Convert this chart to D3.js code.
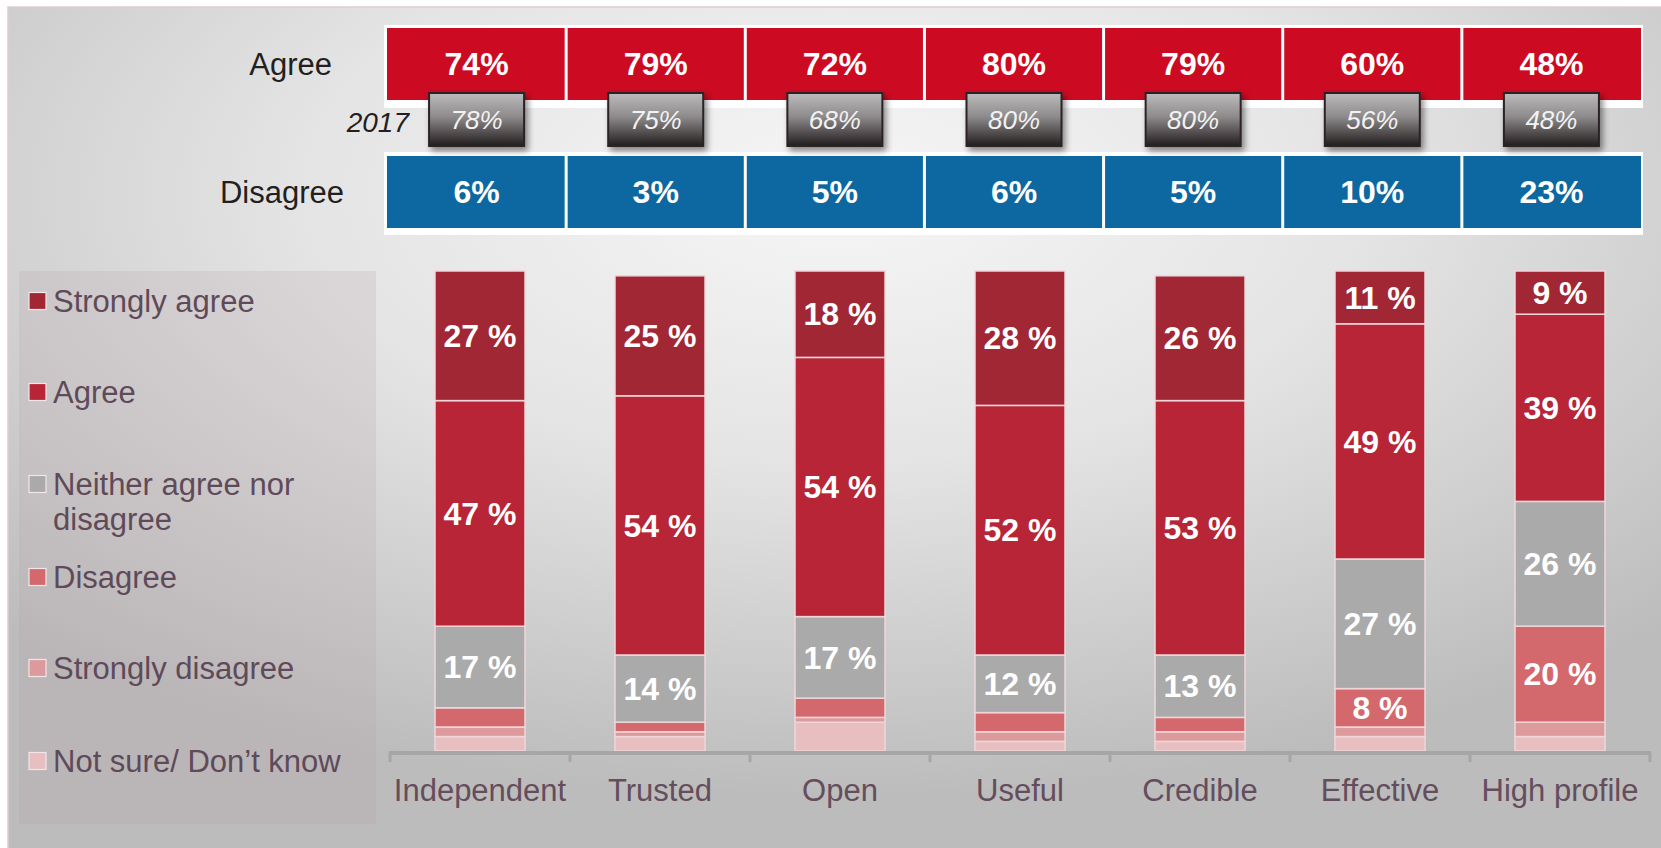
<!DOCTYPE html>
<html>
<head>
<meta charset="utf-8">
<script src="https://cdn.jsdelivr.net/npm/d3@7/dist/d3.min.js"></script>
<style>
  html, body { margin: 0; padding: 0; background: #ffffff; }
  svg { display: block; font-family: "Liberation Sans", Arial, sans-serif; }
</style>
</head>
<body>
<svg id="chart" width="1661" height="848"></svg>
<script>
// Survey attributes and their summary shares
const categories = ["Independent", "Trusted", "Open", "Useful", "Credible", "Effective", "High profile"];
const agreeTotal = [74, 79, 72, 80, 79, 60, 48];
const agree2017 = [78, 75, 68, 80, 80, 56, 48];
const disagreeTotal = [6, 3, 5, 6, 5, 10, 23];

// Full response breakdown (percent)
const responses = ["Strongly agree", "Agree", "Neither agree nor disagree", "Disagree", "Strongly disagree", "Not sure/ Don\u2019t know"];
const stronglyAgree = [27, 25, 18, 28, 26, 11, 9];
const agree = [47, 54, 54, 52, 53, 49, 39];
const neither = [17, 14, 17, 12, 13, 27, 26];
const disagree = [4, 2, 4, 4, 3, 8, 20];
const stronglyDisagree = [2, 1, 1, 2, 2, 2, 3];
const notSure = [3, 3, 6, 2, 2, 3, 3];

const seriesValues = [stronglyAgree, agree, neither, disagree, stronglyDisagree, notSure];
const colors = ["#a12735", "#b72537", "#aaaaaa", "#d4696d", "#dd9a9c", "#e7bfc1"];

const rows = categories.map((c, i) => {
  const r = { category: c };
  responses.forEach((k, j) => { r[k] = seriesValues[j][i]; });
  return r;
});

const svg = d3.select("#chart");
const defs = svg.append("defs");

// Background gradient
const bg = defs.append("radialGradient").attr("id", "bgGrad")
  .attr("cx", "50%").attr("cy", "22%").attr("r", "72%");
bg.append("stop").attr("offset", "0%").attr("stop-color", "#f6f6f6");
bg.append("stop").attr("offset", "45%").attr("stop-color", "#e4e4e4");
bg.append("stop").attr("offset", "100%").attr("stop-color", "#bcbcbc");

// Box gradient for previous-year values
const boxGrad = defs.append("linearGradient").attr("id", "boxGrad")
  .attr("x1", 0).attr("y1", 0).attr("x2", 0).attr("y2", 1);
boxGrad.append("stop").attr("offset", "0%").attr("stop-color", "#bdbbbb");
boxGrad.append("stop").attr("offset", "45%").attr("stop-color", "#8d8a8b");
boxGrad.append("stop").attr("offset", "100%").attr("stop-color", "#221c1e");

const shadow = defs.append("filter").attr("id", "shadow")
  .attr("x", "-20%").attr("y", "-20%").attr("width", "150%").attr("height", "160%");
shadow.append("feDropShadow").attr("dx", 3).attr("dy", 4).attr("stdDeviation", 3)
  .attr("flood-color", "#000").attr("flood-opacity", 0.45);

svg.append("rect").attr("x", 8).attr("y", 7).attr("width", 1653).attr("height", 841)
  .attr("fill", "url(#bgGrad)");
svg.append("path").attr("d", "M8,848 V7 H1661")
  .attr("fill", "none").attr("stroke", "#dccdd2").attr("stroke-width", 1.5);

// ---- Summary rows ----
const xTop = d3.scaleBand().domain(categories).range([387, 1641]).paddingInner(0);
const gap = 1.5;

function summaryRow(values, y0, h, fill, whiteTop, whiteBottom) {
  svg.append("rect").attr("x", 384).attr("y", whiteTop)
    .attr("width", 1643 - 384).attr("height", whiteBottom - whiteTop).attr("fill", "#ffffff");
  const g = svg.append("g");
  g.selectAll("rect").data(categories).join("rect")
    .attr("x", d => xTop(d) + (d === categories[0] ? 0 : gap))
    .attr("y", y0)
    .attr("width", d => xTop.bandwidth() - (d === categories[0] ? gap : 2 * gap) + (d === categories[categories.length - 1] ? gap : 0))
    .attr("height", h)
    .attr("fill", fill);
  g.selectAll("text").data(categories).join("text")
    .attr("x", d => xTop(d) + xTop.bandwidth() / 2)
    .attr("y", y0 + h / 2)
    .attr("dy", "0.35em")
    .attr("text-anchor", "middle")
    .attr("fill", "#ffffff")
    .attr("font-weight", "bold")
    .attr("font-size", 32)
    .text((d, i) => values[i] + "%");
}

summaryRow(agreeTotal, 28, 72, "#cc0a21", 25, 108);
summaryRow(disagreeTotal, 156, 72, "#0d68a1", 152, 235);

svg.append("text").attr("x", 332).attr("y", 64).attr("dy", "0.35em")
  .attr("text-anchor", "end").attr("font-size", 31).attr("fill", "#231f20").text("Agree");
svg.append("text").attr("x", 344).attr("y", 192).attr("dy", "0.35em")
  .attr("text-anchor", "end").attr("font-size", 31).attr("fill", "#231f20").text("Disagree");
svg.append("text").attr("x", 409).attr("y", 122).attr("dy", "0.35em")
  .attr("text-anchor", "end").attr("font-size", 28).attr("font-style", "italic")
  .attr("fill", "#231f20").text("2017");

// Previous-year boxes
const bw = 95, bh = 53;
const prev = svg.append("g").selectAll("g").data(categories).join("g")
  .attr("transform", d => `translate(${xTop(d) + xTop.bandwidth() / 2 - bw / 2},93)`);
prev.append("rect").attr("width", bw).attr("height", bh)
  .attr("fill", "url(#boxGrad)").attr("stroke", "#2a2426").attr("stroke-width", 2)
  .attr("filter", "url(#shadow)");
prev.append("text").attr("x", bw / 2).attr("y", bh / 2).attr("dy", "0.35em")
  .attr("text-anchor", "middle").attr("font-size", 26).attr("font-style", "italic")
  .attr("fill", "#f2f2f2").text((d, i) => agree2017[i] + "%");

// ---- Legend ----
svg.append("rect").attr("x", 19).attr("y", 271).attr("width", 357).attr("height", 553)
  .attr("fill", "#b6a2ad").attr("fill-opacity", 0.22);
const legendY = [301, 392, 484, 577, 668, 761];
const legend = svg.append("g").selectAll("g").data(responses).join("g")
  .attr("transform", (d, i) => `translate(29,${legendY[i]})`);
legend.append("rect").attr("x", 0).attr("y", -8.5).attr("width", 17).attr("height", 17)
  .attr("fill", (d, i) => colors[i]).attr("stroke", "#f2e6e8").attr("stroke-width", 1.2);
legend.append("text").attr("x", 24).attr("font-size", 31).attr("fill", "#5f4a58")
  .each(function (d) {
    const t = d3.select(this);
    const lines = d === "Neither agree nor disagree" ? ["Neither agree nor", "disagree"] : [d];
    lines.forEach((ln, k) => {
      t.append("tspan").attr("x", 24).attr("dy", k === 0 ? "0.35em" : 35).text(ln);
    });
  });

// ---- Stacked bars ----
const x = d3.scaleBand().domain(categories).range([390, 1650]).paddingInner(0.5).paddingOuter(0.25);
const y = d3.scaleLinear().domain([0, 100]).range([751, 271]);

const stackKeys = responses.slice().reverse();
const stacked = d3.stack().keys(stackKeys)(rows);

const layers = svg.append("g").selectAll("g").data(stacked).join("g")
  .attr("fill", d => colors[responses.indexOf(d.key)]);
layers.selectAll("rect").data(d => d).join("rect")
  .attr("x", d => x(d.data.category))
  .attr("y", d => y(d[1]))
  .attr("width", x.bandwidth())
  .attr("height", d => y(d[0]) - y(d[1]))
  .attr("stroke", "#f0d6d9").attr("stroke-width", 1.5);

const labels = svg.append("g");
stacked.forEach(layer => {
  layer.forEach(d => {
    const v = d[1] - d[0];
    if (v >= 8) {
      labels.append("text")
        .attr("x", x(d.data.category) + x.bandwidth() / 2)
        .attr("y", (y(d[0]) + y(d[1])) / 2)
        .attr("dy", "0.35em")
        .attr("text-anchor", "middle")
        .attr("font-size", 32).attr("font-weight", "bold").attr("fill", "#ffffff")
        .text(v + " %");
    }
  });
});

// Category axis
const axisScale = d3.scalePoint().domain(d3.range(categories.length + 1)).range([390, 1650]);
const axisG = svg.append("g");
axisG.append("line").attr("x1", 389).attr("x2", 1651).attr("y1", 753).attr("y2", 753)
  .attr("stroke", "#a6a6a6").attr("stroke-width", 4);
axisG.selectAll("line.tick").data(axisScale.domain()).join("line").attr("class", "tick")
  .attr("x1", d => axisScale(d)).attr("x2", d => axisScale(d))
  .attr("y1", 753).attr("y2", 762)
  .attr("stroke", "#a6a6a6").attr("stroke-width", 3);
axisG.selectAll("text").data(categories).join("text")
  .attr("x", d => x(d) + x.bandwidth() / 2)
  .attr("y", 790).attr("dy", "0.35em")
  .attr("text-anchor", "middle").attr("font-size", 31).attr("fill", "#654d5c")
  .text(d => d);
</script>
</body>
</html>
